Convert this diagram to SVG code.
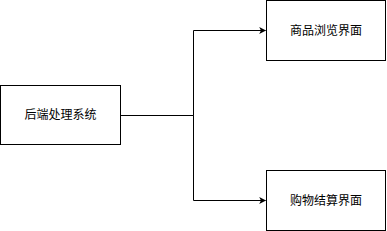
<svg xmlns="http://www.w3.org/2000/svg" width="387" height="231" viewBox="0 0 387 231">
<style>
.box{fill:#fff;stroke:#000;stroke-width:1}
.lbl{font-family:"Liberation Sans","Noto Sans CJK SC",sans-serif;font-size:12px;fill:#000;text-anchor:middle;dominant-baseline:central}
.edge{fill:none;stroke:#000;stroke-width:1}
</style>
<defs>
<marker id="arr" viewBox="0 0 10 10" refX="9" refY="5" markerWidth="7" markerHeight="7" markerUnits="userSpaceOnUse" orient="auto">
<path d="M0,0 L10,5 L0,10 L2.5,5 Z" fill="#000"/>
</marker>
</defs>
<rect width="387" height="231" fill="#fff"/>
<g id="connectors">
<path class="edge" d="M120.5,115.5 H193.5 V30.5 H265.5" marker-end="url(#arr)"/>
<path class="edge" d="M120.5,115.5 H193.5 V200.5 H265.5" marker-end="url(#arr)"/>
</g>
<g id="backend">
<rect class="box" x="0.5" y="85.5" width="120" height="59"/>
<text class="lbl" x="60.5" y="115">后端处理系统</text>
</g>
<g id="browse">
<rect class="box" x="266.5" y="0.5" width="119" height="60"/>
<text class="lbl" x="326" y="30.5">商品浏览界面</text>
</g>
<g id="checkout">
<rect class="box" x="266.5" y="170.5" width="119" height="60"/>
<text class="lbl" x="326" y="200.5">购物结算界面</text>
</g>
</svg>
